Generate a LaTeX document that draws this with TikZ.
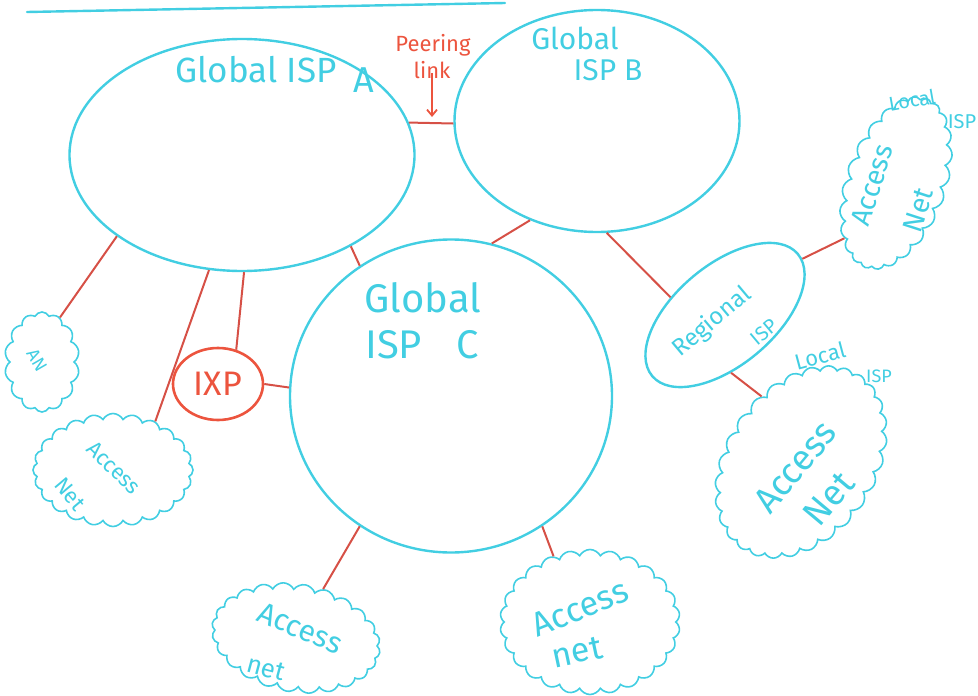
\documentclass[tikz,border=0pt]{standalone}
\usepackage{fontspec}
\setmainfont{Fira Sans}
\usetikzlibrary{shapes.geometric,shapes.symbols,arrows.meta}
\definecolor{pencyan}{RGB}{66,206,226}
\definecolor{penred}{RGB}{236,84,62}
\definecolor{linkred}{RGB}{214,80,70}
\begin{document}
\begin{tikzpicture}[x=1pt,y=-1pt,
  isp/.style={draw=pencyan,line width=2.4pt,ellipse,inner sep=0pt},
  accessnet/.style={draw=pencyan,line width=1.6pt,cloud,cloud puffs=#1,
    cloud puff arc=125,cloud ignores aspect,inner sep=0pt},
  hand/.style={text=pencyan,font=\fontsize{#1}{#1}\selectfont,inner sep=0pt},
  redhand/.style={text=penred,font=\fontsize{#1}{#1}\selectfont,inner sep=0pt},
  link/.style={draw=linkred,line width=2pt}]
\useasboundingbox (0,0) rectangle (978,696);

% title underline
\draw[pencyan,line width=2.4pt,line cap=round] (27,12) -- (505,3);

% backbone and regional providers
\node[isp,minimum width=345,minimum height=232] (A) at (242,155) {};
\node[isp,minimum width=285,minimum height=222] (B) at (597,121) {};
\node[isp,minimum width=322,minimum height=313] (C) at (451,396) {};
\node[isp,minimum width=190,minimum height=100,rotate=40] (R) at (725,315) {};
\node[draw=penred,line width=2.6pt,ellipse,minimum width=90,minimum height=72,
  inner sep=0pt,text=penred,font=\fontsize{34}{34}\selectfont] (IXP) at (218,384) {IXP};

% access networks
\node[accessnet=14,minimum width=75,minimum height=100] (AN) at (42,362) {};
\node[accessnet=24,minimum width=160,minimum height=113] (L1) at (113,470) {};
\node[accessnet=24,minimum width=170,minimum height=108,rotate=-10] (BL) at (296,638) {};
\node[accessnet=26,minimum width=180,minimum height=145] (BM) at (590,622) {};
\node[accessnet=28,minimum width=210,minimum height=150,rotate=55] (RB) at (801,462) {};
\node[accessnet=24,minimum width=180,minimum height=100,rotate=70] (RT) at (896,183) {};

% links
\draw[link] (A.11) -- (B.181);
\draw[link] (A.213) -- (AN.68);
\draw[link] (A.254) -- (L1.49);
\draw[link] (A.271) -- (IXP.62);
\draw[link] (IXP.0) -- (C.177);
\draw[link] (A.320) -- (C.125);
\draw[link] (B.236) -- (C.75);
\draw[link] (B.275) -- (R.122);
\draw[link] (R.356) -- (RT.157);
\draw[link] (R.236) -- (RB.66);
\draw[link] (C.235) -- (BL.71);
\draw[link] (C.305) -- (BM.119);

% labels
\node[hand=35] (ta) at (256,70) {Global ISP};
\node[hand=36] (taA) at (364,80) {A};
\node[redhand=22] (peer) at (433,45) {Peering};
\node[redhand=22] (peerlink) at (432,70) {link};
\coordinate (peertip) at (432,117);
\draw[penred,line width=1.8pt,-{Straight Barb[length=6pt,width=10pt]}]
  ([yshift=6pt]peerlink.south) -- (peertip);

\node[hand=30] (tb1) at (575,38) {Global};
\node[hand=30] (tb2) at (608,70) {ISP B};

\node[hand=40] (tc1) at (423,298) {Global};
\node[hand=40] (tc2) at (422,345) {ISP\hspace{34pt}C};

\node[hand=24,rotate=40] (tr1) at (712,322) {Regional};
\node[hand=20,rotate=40] (tr2) at (764,332) {ISP};

\node[hand=20,rotate=10] (tl1) at (912,100) {Local};
\node[hand=20] (tl2) at (962,122) {ISP};
\node[hand=28,rotate=72] (trt1) at (872,185) {Access};
\node[hand=28,rotate=72] (trt2) at (918,210) {Net};

\node[hand=22,rotate=15] (tl3) at (820,356) {Local};
\node[hand=18] (tl4) at (879,376) {ISP};
\node[hand=36,rotate=50] (trb1) at (795,467) {Access};
\node[hand=36,rotate=50] (trb2) at (829,499) {Net};

\node[hand=18,rotate=-60] (tan) at (37,360) {AN};
\node[hand=22,rotate=-44] (tl51) at (114,468) {Access};
\node[hand=22,rotate=-50] (tl52) at (70,494) {Net};

\node[hand=30,rotate=-23] (tbl1) at (300,628) {Access};
\node[hand=26,rotate=-15] (tbl2) at (266,668) {net};

\node[hand=34,rotate=22] (tbm1) at (580,608) {Access};
\node[hand=34,rotate=12] (tbm2) at (577,652) {net};
\end{tikzpicture}
\end{document}
